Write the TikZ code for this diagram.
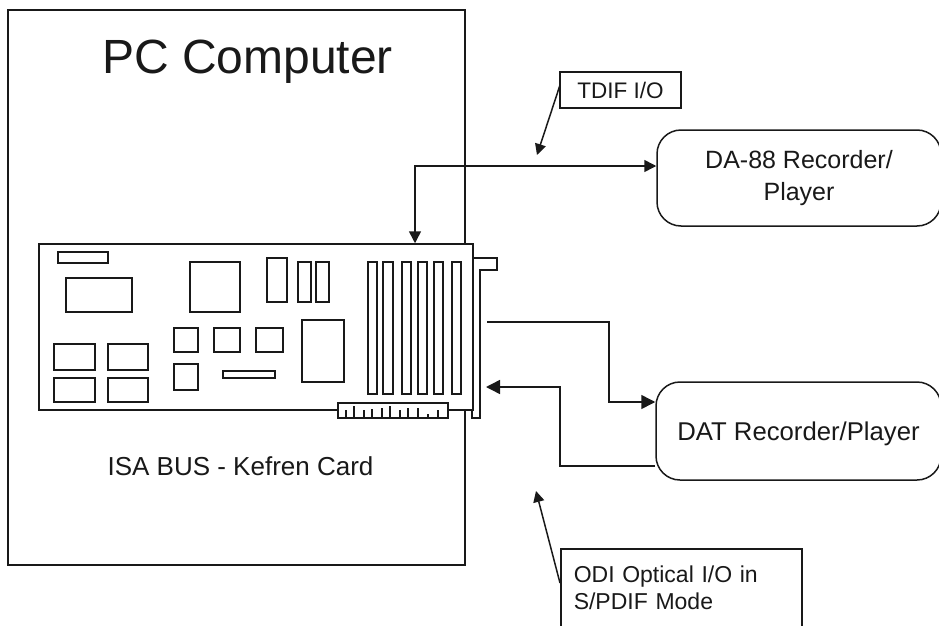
\documentclass[tikz,border=0pt]{standalone}
\usepackage{fontspec}
\setmainfont{Liberation Sans}
\usetikzlibrary{arrows.meta,positioning,calc}
\definecolor{inkgrey}{RGB}{25,25,25}
\newcommand{\textsz}[2]{\fontsize{#1}{#2}\selectfont}

\begin{document}
\begin{tikzpicture}[x=1pt,y=-1pt,
    line width=1.5pt,
    s/.style={rectangle,draw=inkgrey,fill=white,inner sep=0pt,align=center,text=inkgrey},
    r/.style={s,rounded corners=24pt},
    t/.style={inner sep=0pt,text=inkgrey},
    part/.style={draw=inkgrey,fill=white},
    a/.style={-{Triangle[length=14pt,width=14pt]},inkgrey},
    aa/.style={{Triangle[length=12pt,width=12pt]}-{Triangle[length=12pt,width=12pt]},inkgrey},
    c/.style={-{Triangle[length=11pt,width=11pt]},inkgrey}]
    \useasboundingbox (0,0) rectangle (939,626);
    \node[s,minimum width=457pt,minimum height=555pt] (pc) at (236.5,287.5) {};
    \node[t,font=\textsz{48}{56}] (pclabel) at (247.5,62) {PC Computer};
    % bracket sits behind the board
    \draw[part] (472,258) -- (497,258) -- (497,270) -- (480,270) -- (480,418) -- (472,418) -- cycle;
    \node[s,minimum width=434pt,minimum height=166pt] (card) at (256,327) {};
    \foreach \xa/\ya/\xb/\yb in {58/252/108/263,66/278/132/312,54/344/95/370,108/344/148/370,
        54/378/95/402,108/378/148/402,190/262/240/312,174/328/198/352,214/328/240/352,
        256/328/283/352,174/364/198/390,223/371/275/378,267/258/287/302,298/262/311/302,
        316/262/329/302,302/320/344/382,368/262/377/394,383/262/393/394,402/262/411/394,
        418/262/427/394,434/262/443/394,452/262/461/394}
      \draw[part] (\xa,\ya) rectangle (\xb,\yb);
    \node[s,minimum width=110pt,minimum height=15pt] (edge) at (393,410.5) {};
    \foreach \x/\y in {346/410,354/406,364/410,372/409,382/408,390/406,400/410,408/408,418/408,428/414,438/410}
      \draw[inkgrey,line width=1.2pt] (\x,418) -- (\x,\y);
    \node[t,font=\textsz{26}{30}] (cardlabel) at (240.5,466) {ISA BUS - Kefren Card};
    \node[s,minimum width=121pt,minimum height=36pt,font=\textsz{22.5}{26}] (tdif) at (620.5,90) {TDIF I/O};
    \node[r,minimum width=284pt,minimum height=96pt,font=\textsz{25}{32}] (da) at (799,178) {DA-88 Recorder/\\Player};
    \node[r,minimum width=285pt,minimum height=98pt,font=\textsz{25.7}{30},text depth=0pt] (dat) at (798.5,431) {DAT Recorder/Player};
    \node[s,minimum width=241pt,minimum height=78pt,font=\textsz{23}{27},align=left,anchor=north west,
      text width=215pt] (odi) at (560,548) {ODI Optical I/O in\\S/PDIF Mode};
    \coordinate (tdifbus) at (415,166);
    \coordinate (tdifstart) at (560,85);
    \coordinate (tdiftip) at (537,155);
    \coordinate (odistart) at (560,583);
    \coordinate (oditip) at (536,491);
    \coordinate (datout) at (487,322);
    \coordinate (datin) at (609,402);
    \coordinate (datback) at (560,466);
    \coordinate (datret) at (486,387);
    \draw[aa] (tdifbus |- card.north) |- (da.west |- tdifbus);
    \draw[c] (tdifstart) -- (tdiftip);
    \draw[a] (datout) -| (datin) -- (dat.west |- datin);
    \draw[a] (dat.west |- datback) -- (datback) |- (datret);
    \draw[c] (odistart) -- (oditip);
  \end{tikzpicture}
\end{document}
